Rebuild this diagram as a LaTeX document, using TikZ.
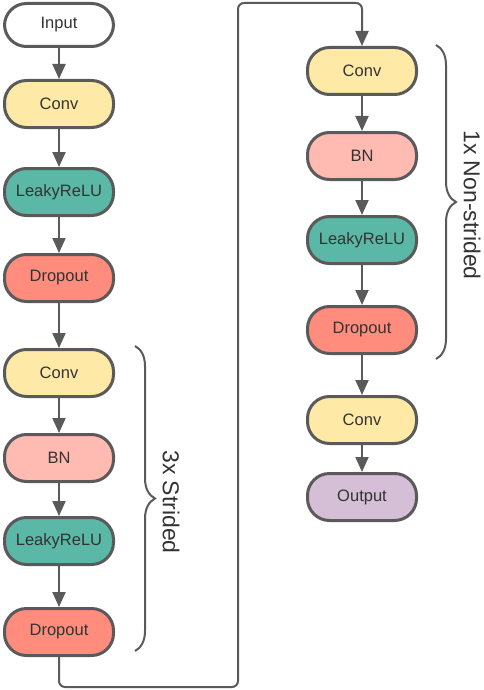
\documentclass[tikz,border=0pt]{standalone}
\usepackage{fontspec}
\setmainfont{Liberation Sans}
\usetikzlibrary{arrows.meta,decorations.pathreplacing}
\definecolor{edge}{HTML}{5A5A5A}
\definecolor{txt}{HTML}{333333}
\definecolor{convc}{HTML}{FFE9A6}
\definecolor{bnc}{HTML}{FFBBB1}
\definecolor{reluc}{HTML}{5BB8A6}
\definecolor{dropc}{HTML}{FF8C7C}
\definecolor{outc}{HTML}{D4BFD6}
\tikzset{
  blk/.style={draw=edge, line width=3pt, rectangle, rounded corners=22pt,
    minimum width=109pt, minimum height=47pt, inner sep=0pt, text=txt,
    font=\fontsize{16.5}{18}\selectfont},
  arr/.style={draw=edge, line width=2pt, -{Triangle[width=13pt,length=15pt]}},
  loopline/.style={draw=edge, line width=2pt, rounded corners=6pt},
  brc/.style={draw=edge, line width=2pt, decorate, decoration={brace, amplitude=20pt}},
  lbl/.style={text=txt, font=\fontsize{23}{26}\selectfont, rotate=-90}
}
\begin{document}
\begin{tikzpicture}[x=1pt,y=-1pt]
\useasboundingbox (0,0) rectangle (484,690);
% left column
\node[blk, fill=white, minimum height=43pt] (in) at (59,25) {Input};
\node[blk, fill=convc] (c1) at (59,104) {Conv};
\node[blk, fill=reluc] (r1) at (59,192) {LeakyReLU};
\node[blk, fill=dropc] (d1) at (59,278) {Dropout};
\node[blk, fill=convc] (c2) at (59,373) {Conv};
\node[blk, fill=bnc] (b2) at (59,458) {BN};
\node[blk, fill=reluc] (r2) at (59,541) {LeakyReLU};
\node[blk, fill=dropc] (d2) at (59,632) {Dropout};
% right column
\node[blk, fill=convc] (c3) at (362,71) {Conv};
\node[blk, fill=bnc] (b3) at (362,156) {BN};
\node[blk, fill=reluc] (r3) at (362,240) {LeakyReLU};
\node[blk, fill=dropc] (d3) at (362,330) {Dropout};
\node[blk, fill=convc] (c4) at (362,420) {Conv};
\node[blk, fill=outc] (o4) at (362,497) {Output};
% arrows
\draw[arr] (in) -- (c1);
\draw[arr] (c1) -- (r1);
\draw[arr] (r1) -- (d1);
\draw[arr] (d1) -- (c2);
\draw[arr] (c2) -- (b2);
\draw[arr] (b2) -- (r2);
\draw[arr] (r2) -- (d2);
\draw[arr] (c3) -- (b3);
\draw[arr] (b3) -- (r3);
\draw[arr] (r3) -- (d3);
\draw[arr] (d3) -- (c4);
\draw[arr] (c4) -- (o4);
% loop connector
\coordinate (p1) at (59,687);
\coordinate (p2) at (238,687);
\coordinate (p3) at (238,3);
\coordinate (p4) at (362,3);
\draw[arr, rounded corners=6pt] (d2.south) -- (p1) -- (p2) -- (p3) -- (p4) -- (c3.north);
% braces
\coordinate (bl1) at (135,346);
\coordinate (bl2) at (135,651);
\draw[brc] (bl1) -- (bl2);
\node[lbl] (l1) at (171,502) {3x Strided};
\coordinate (br1) at (436,45);
\coordinate (br2) at (436,359);
\draw[brc] (br1) -- (br2);
\node[lbl] (l2) at (472,205) {1x Non-strided};
\end{tikzpicture}
\end{document}
